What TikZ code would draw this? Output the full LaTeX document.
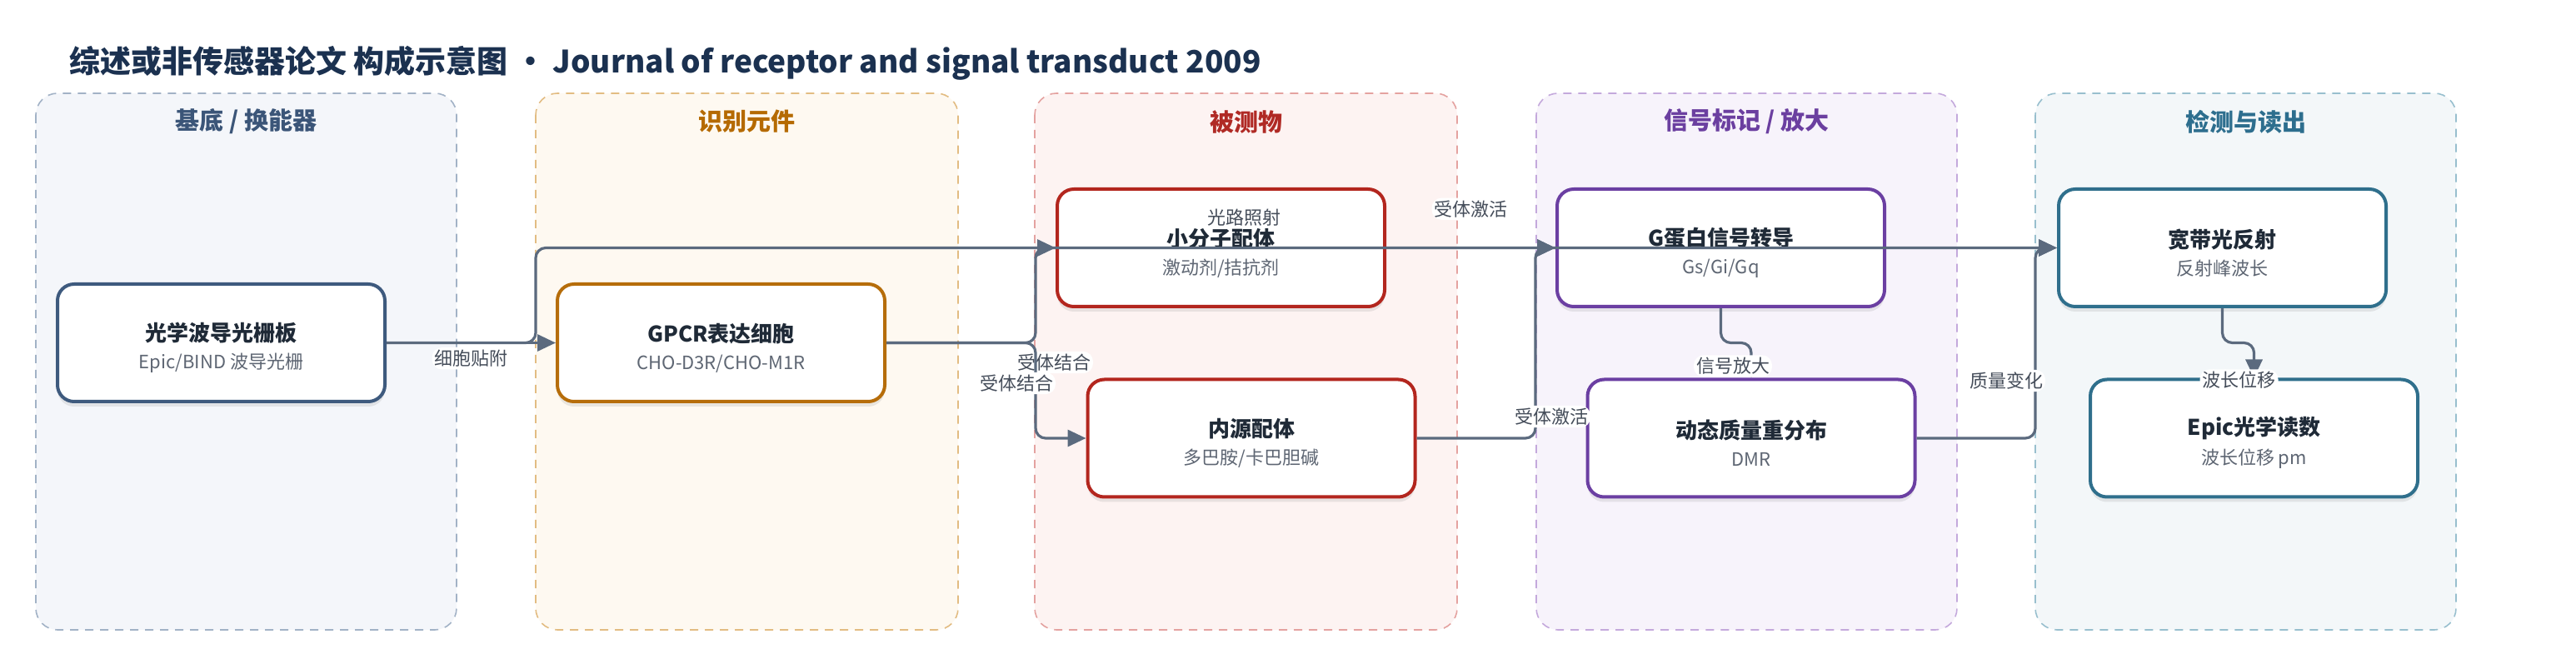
\documentclass[tikz,border=0pt]{standalone}
\usepackage{fontspec}
\setmainfont{Noto Sans CJK SC}
\usetikzlibrary{arrows.meta,shadows,positioning}

\definecolor{edgec}{HTML}{5B6A7E}
\definecolor{ink}{HTML}{1F2A37}
\definecolor{subc}{HTML}{5E6673}
\definecolor{tagc}{HTML}{454D5A}
\definecolor{titlec}{HTML}{1B3150}
% column colours: fill, dashed line, heading, box border
\definecolor{pAf}{HTML}{F4F6FA}\definecolor{pAl}{HTML}{A2B2C6}\definecolor{pAt}{HTML}{3B5578}\definecolor{bA}{HTML}{3E5A7E}
\definecolor{pBf}{HTML}{FEF9F1}\definecolor{pBl}{HTML}{E2BC82}\definecolor{pBt}{HTML}{B56A00}\definecolor{bB}{HTML}{B66D0A}
\definecolor{pCf}{HTML}{FDF3F2}\definecolor{pCl}{HTML}{E4A2A0}\definecolor{pCt}{HTML}{B02A25}\definecolor{bC}{HTML}{B3261E}
\definecolor{pDf}{HTML}{F7F3FB}\definecolor{pDl}{HTML}{C4A9DC}\definecolor{pDt}{HTML}{6B3FA0}\definecolor{bD}{HTML}{6B3FA2}
\definecolor{pEf}{HTML}{F3F7F9}\definecolor{pEl}{HTML}{98BFCE}\definecolor{pEt}{HTML}{2D6E8E}\definecolor{bE}{HTML}{2F6F8C}

\newcommand{\boxtxt}[2]{{\bfseries\fontsize{13}{17.5}\selectfont\rule{0pt}{17pt}#1}\\[4.5pt]{\fontsize{11}{14}\selectfont\color{subc}#2}}

\begin{document}
\begin{tikzpicture}[
        ->, % every edge ends in a head
        >={Triangle[length=11pt,width=10pt]}, % filled head
        node distance=300pt, % column pitch
        line width=1.6pt
      ]

      \tikzstyle{panel}=[-, line width=0.8pt, rounded corners=13pt, dash pattern=on 5pt off 4pt]
      \tikzstyle{head}=[font=\bfseries\fontsize{14.5}{17}\selectfont]
      \tikzstyle{state}=[rectangle, rounded corners=10pt, draw, line width=2pt, fill=white, text=ink,
        minimum width=196.5pt, minimum height=70.5pt, align=center,
        drop shadow={opacity=0.16, shadow xshift=0pt, shadow yshift=-3pt}]
      \tikzstyle{flow}=[draw=edgec, rounded corners=6pt]
      \tikzstyle{tag}=[fill=white, inner sep=1.5pt, text=tagc, font=\fontsize{11}{13}\selectfont]

      \useasboundingbox (0,0) rectangle (1546pt,-389.5pt);

      \node[anchor=west, text=titlec, font=\bfseries\fontsize{18.5}{22}\selectfont] (title) at (37.5pt,-38pt)
        {综述或非传感器论文 构成示意图 • Journal of receptor and signal transduct 2009};

      % columns
      \draw[panel, draw=pAl, fill=pAf] (21.5pt,-56pt) rectangle (274pt,-378pt);
      \draw[panel, draw=pBl, fill=pBf] (321.5pt,-56pt) rectangle (575pt,-378pt);
      \draw[panel, draw=pCl, fill=pCf] (621pt,-56pt) rectangle (874.5pt,-378pt);
      \draw[panel, draw=pDl, fill=pDf] (922pt,-56pt) rectangle (1174.5pt,-378pt);
      \draw[panel, draw=pEl, fill=pEf] (1221.5pt,-56pt) rectangle (1474pt,-378pt);

      \node[head, text=pAt] (hA) at (147.75pt,-73pt) {基底 / 换能器};
      \node[head, text=pBt] (hB) at (448.25pt,-73pt) {识别元件};
      \node[head, text=pCt] (hC) at (747.75pt,-73pt) {被测物};
      \node[head, text=pDt] (hD) at (1048.25pt,-73pt) {信号标记 / 放大};
      \node[head, text=pEt] (hE) at (1347.75pt,-73pt) {检测与读出};

      \node[state, draw=bA] (sub) at (132.75pt,-205.75pt) {\boxtxt{光学波导光栅板}{Epic/BIND 波导光栅}};
      \node[state, draw=bB] (gpcr) [right of=sub] {\boxtxt{GPCR表达细胞}{CHO-D3R/CHO-M1R}};
      \node[state, draw=bC] (lig) [right of=gpcr, yshift=57pt] {\boxtxt{小分子配体}{激动剂/拮抗剂}};
      \node[state, draw=bC] (endo) [below of=lig, node distance=114.25pt, xshift=18.25pt] {\boxtxt{内源配体}{多巴胺/卡巴胆碱}};
      \node[state, draw=bD] (gpro) [right of=lig] {\boxtxt{G蛋白信号转导}{Gs/Gi/Gq}};
      \node[state, draw=bD] (dmr) [right of=endo] {\boxtxt{动态质量重分布}{DMR}};
      \node[state, draw=bE] (refl) [right of=gpro, node distance=301pt] {\boxtxt{宽带光反射}{反射峰波长}};
      \node[state, draw=bE] (epic) [right of=dmr, node distance=301.75pt] {\boxtxt{Epic光学读数}{波长位移 pm}};

      % bus lines in the gaps
      \coordinate (b1) at (321.5pt,0);
      \coordinate (b2) at (621.5pt,0);
      \coordinate (b3) at (921.5pt,0);
      \coordinate (b4) at (1221.5pt,0);

      \draw[flow] (sub) -- node[tag, below=2pt] (t1) {细胞贴附} (gpcr);
      \draw[flow] (sub.east) -| (b1 |- lig.west) -- node[tag, pos=0.466, above=11pt] (t2) {光路照射} (refl.west);
      \draw[flow] (gpcr.east) -| node[tag, pos=0.5, xshift=11pt, yshift=-11.75pt] (t3) {受体结合} (b2 |- lig.west) -- (lig.west);
      \draw[flow] (gpcr.east) -| node[tag, pos=0.5, xshift=-11.5pt, yshift=-24.25pt] (t4) {受体结合} (b2 |- endo.west) -- (endo.west);
      \draw[flow] (lig) -- node[tag, above=16pt] (t5) {受体激活} (gpro);
      \draw[flow] (endo.east) -| node[tag, pos=0.5, xshift=9.5pt, yshift=13pt] (t6) {受体激活} (b3 |- gpro.west) -- (gpro.west);
      \draw[flow] (gpro.south) -- (gpro.south |- sub) -| node[tag, pos=1, xshift=-11pt, yshift=7pt] (t7) {信号放大} (dmr.north);
      \draw[flow] (dmr.east) -| node[tag, pos=0.5, xshift=-17.5pt, yshift=34.5pt] (t8) {质量变化} (b4 |- refl.west) -- (refl.west);
      \draw[flow] (refl.south) -- (refl.south |- sub) -| node[tag, pos=1, xshift=-9pt, yshift=-1.5pt] (t9) {波长位移} (epic.north);

    \end{tikzpicture}
\end{document}
